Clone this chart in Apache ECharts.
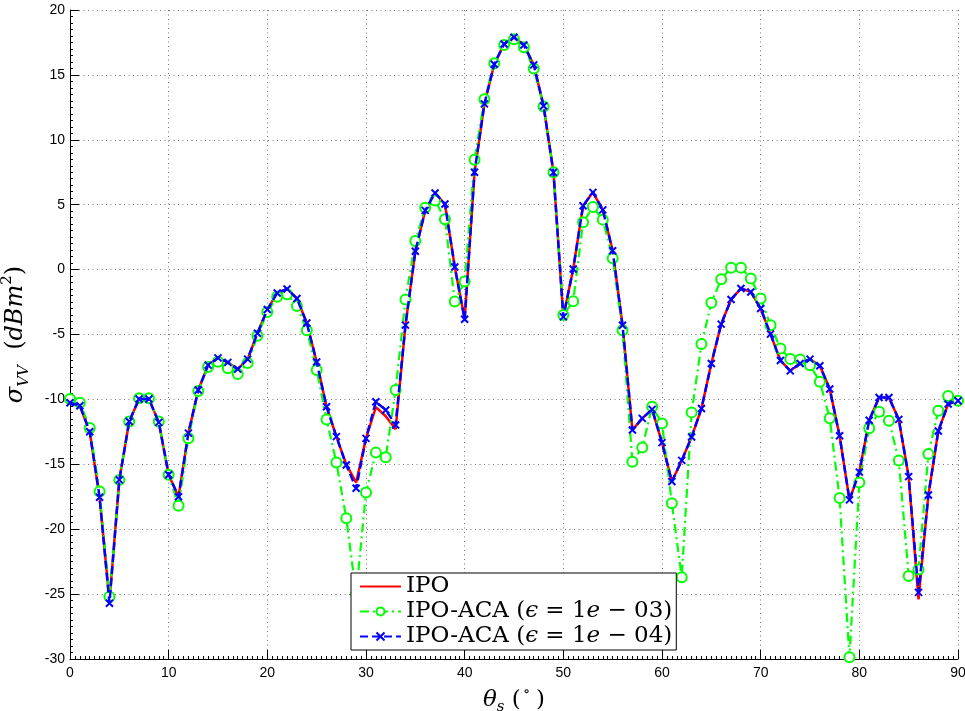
<!DOCTYPE html>
<html>
<head>
<meta charset="utf-8">
<script src="https://cdn.jsdelivr.net/npm/echarts@6/dist/echarts.min.js"></script>
<style>
html,body{margin:0;padding:0;background:#fff;}
#chart{width:965px;height:711px;}
</style>
</head>
<body>
<div id="chart"></div>
<script>
const theta = [0,1,2,3,4,5,6,7,8,9,10,11,12,13,14,15,16,17,18,19,20,21,22,23,24,25,26,27,28,29,30,31,32,33,34,35,36,37,38,39,40,41,42,43,44,45,46,47,48,49,50,51,52,53,54,55,56,57,58,59,60,61,62,63,64,65,66,67,68,69,70,71,72,73,74,75,76,77,78,79,80,81,82,83,84,85,86,87,88,89,90];

const ipo = [-10.26,-10.49,-12.49,-17.54,-25.5,-16.2,-11.7,-9.97,-9.97,-11.77,
  -15.8,-17.5,-12.6,-9.28,-7.36,-6.8,-7.15,-7.67,-6.9,-4.9,
  -3.08,-1.8,-1.49,-2.23,-4.12,-7.12,-10.56,-12.87,-15.0,-16.4,
  -13.0,-10.6,-11.3,-12.3,-4.28,1.41,4.56,5.9,5.05,0.2,
  -3.83,7.5,12.77,15.82,17.38,17.9,17.3,15.77,12.6,7.49,
  -3.64,0.05,4.92,5.95,4.6,1.45,-4.29,-12.36,-11.46,-10.77,
  -13.33,-16.33,-14.7,-12.9,-10.7,-7.23,-4.2,-2.3,-1.46,-1.72,
  -3.0,-4.97,-7.0,-7.8,-7.23,-6.9,-7.41,-9.2,-12.8,-17.74,
  -15.6,-11.6,-9.85,-9.85,-11.54,-15.95,-25.4,-17.36,-12.44,-10.36,
  -10.1];

const aca3 = [-9.97,-10.26,-12.2,-17.1,-25.2,-16.2,-11.7,-9.92,-9.92,-11.7,
  -15.8,-18.2,-13.0,-9.36,-7.5,-7.1,-7.6,-8.05,-7.2,-5.1,
  -3.26,-2.1,-1.9,-2.8,-4.67,-7.74,-11.54,-14.87,-19.15,-25.0,
  -17.18,-14.1,-14.46,-9.28,-2.3,2.2,4.77,5.33,3.88,-2.46,
  -0.92,8.46,13.13,15.9,17.3,17.74,17.13,15.5,12.56,7.5,
  -3.5,-2.44,3.64,4.82,3.85,0.87,-4.67,-14.8,-13.7,-10.56,
  -11.85,-18.0,-23.7,-11.0,-5.74,-2.56,-0.74,0.15,0.15,-0.69,
  -2.23,-4.28,-6.08,-6.88,-6.92,-7.36,-8.64,-11.46,-17.6,-29.87,
  -16.4,-12.23,-10.95,-11.64,-14.7,-23.6,-23.1,-14.2,-10.87,-9.74,
  -10.1];

const aca4 = [-10.26,-10.49,-12.49,-17.54,-25.7,-16.2,-11.7,-9.97,-9.97,-11.77,
  -15.8,-17.5,-12.6,-9.28,-7.36,-6.8,-7.15,-7.67,-6.9,-4.9,
  -3.08,-1.8,-1.49,-2.23,-4.12,-7.12,-10.56,-12.87,-15.05,-16.85,
  -13.0,-10.18,-10.82,-11.97,-4.28,1.41,4.56,5.9,5.05,0.2,
  -3.83,7.5,12.77,15.82,17.38,17.9,17.3,15.77,12.6,7.49,
  -3.64,0.05,4.92,5.95,4.6,1.45,-4.29,-12.36,-11.46,-10.77,
  -13.33,-16.33,-14.7,-12.9,-10.7,-7.23,-4.2,-2.3,-1.46,-1.72,
  -3.0,-4.97,-7.0,-7.8,-7.23,-6.9,-7.41,-9.2,-12.8,-17.74,
  -15.6,-11.6,-9.85,-9.85,-11.54,-15.95,-24.87,-17.36,-12.44,-10.36,
  -10.1];

const xTicks = [0,10,20,30,40,50,60,70,80,90];
const yTicks = [-30,-25,-20,-15,-10,-5,0,5,10,15,20];
const seriesNames = ['IPO', 'IPO-ACA (ϵ = 1e − 03)', 'IPO-ACA (ϵ = 1e − 04)'];

const pairs = ys => theta.map((t, i) => [t, ys[i]]);

const serif = '"DejaVu Serif","Liberation Serif",serif';
const sans = '"Liberation Sans",Arial,sans-serif';

const chart = echarts.init(document.getElementById('chart'), null, {renderer: 'canvas'});

const axisCommon = {
  axisLine: {show: true, onZero: false, lineStyle: {color: '#000', width: 1}},
  axisTick: {show: true, inside: true, length: 9, lineStyle: {color: '#000', width: 1}},
  minorTick: {show: true, length: 3, lineStyle: {color: '#000', width: 1}},
  splitLine: {show: true, lineStyle: {color: '#777', width: 1, type: [1, 3.5]}},
  axisLabel: {color: '#000', fontSize: 14, fontFamily: sans}
};

const legendRich = {
  n: {fontFamily: serif, fontSize: 23, color: '#000', lineHeight: 25},
  i: {fontFamily: serif, fontSize: 23, fontStyle: 'italic', color: '#000', lineHeight: 25}
};

chart.setOption({
  animation: false,
  backgroundColor: '#fff',
  grid: {left: 70, right: 7, top: 10, bottom: 52, containLabel: false, outerBoundsMode: 'none'},
  xAxis: Object.assign({}, axisCommon, {
    type: 'value', min: xTicks[0], max: xTicks[xTicks.length - 1], interval: 10,
    minorTick: Object.assign({}, axisCommon.minorTick, {splitNumber: 20}),
    axisLabel: Object.assign({}, axisCommon.axisLabel, {margin: 7}),
    name: '{i|θ}{sub|s} {n|(}{sup|∘}{n|)}',
    nameLocation: 'middle', nameGap: 20,
    nameTextStyle: {
      rich: {
        i: {fontFamily: serif, fontStyle: 'italic', fontSize: 23, color: '#000', lineHeight: 30, verticalAlign: 'middle'},
        n: {fontFamily: serif, fontSize: 23, color: '#000', lineHeight: 30, verticalAlign: 'middle', padding: [0, 0, 0, 4]},
        sub: {fontFamily: serif, fontStyle: 'italic', fontSize: 15, color: '#000', lineHeight: 15, verticalAlign: 'bottom'},
        sup: {fontFamily: serif, fontSize: 15, color: '#000', lineHeight: 15, verticalAlign: 'top', padding: [0, 2, 0, 2]}
      }
    }
  }),
  yAxis: Object.assign({}, axisCommon, {
    type: 'value', min: yTicks[0], max: yTicks[yTicks.length - 1], interval: 5,
    minorTick: Object.assign({}, axisCommon.minorTick, {splitNumber: 10}),
    axisLabel: Object.assign({}, axisCommon.axisLabel, {margin: 5}),
    name: '{i|σ}{sub|VV}{n|  (}{i|dBm}{sup|2}{n|)}',
    nameLocation: 'middle', nameGap: 38, nameRotate: 90,
    nameTextStyle: {
      rich: {
        i: {fontFamily: serif, fontStyle: 'italic', fontSize: 24, color: '#000', lineHeight: 32, verticalAlign: 'middle'},
        n: {fontFamily: serif, fontSize: 24, color: '#000', lineHeight: 32, verticalAlign: 'middle'},
        sub: {fontFamily: serif, fontStyle: 'italic', fontSize: 15, color: '#000', lineHeight: 15, verticalAlign: 'bottom'},
        sup: {fontFamily: serif, fontSize: 15, color: '#000', lineHeight: 15, verticalAlign: 'top'}
      }
    }
  }),
  legend: {
    orient: 'vertical',
    left: 351, top: 573,
    padding: [2, 4, 2, 8],
    itemGap: 2,
    itemWidth: 41, itemHeight: 10,
    backgroundColor: '#fff',
    borderColor: '#000', borderWidth: 1,
    borderRadius: 0,
    data: [
      {name: seriesNames[0], itemStyle: {opacity: 0}},
      {name: seriesNames[1]},
      {name: seriesNames[2]}
    ],
    formatter: function (name) {
      if (name === seriesNames[0]) return '{n|IPO}';
      const tail = name === seriesNames[1] ? '03' : '04';
      return '{n|IPO-ACA (}{i|ϵ}{n| = 1}{i|e}{n| − ' + tail + ')}';
    },
    textStyle: {padding: [0, 0, 0, 0], rich: legendRich},
    z: 10
  },
  series: [
    {
      name: seriesNames[0], type: 'line', data: pairs(ipo),
      showSymbol: false, symbol: 'none', symbolSize: 0,
      lineStyle: {color: '#ff0000', width: 2.5},
      itemStyle: {color: '#ff0000'},
      z: 2
    },
    {
      name: seriesNames[1], type: 'line', data: pairs(aca3),
      symbol: 'emptyCircle', symbolSize: 10, showAllSymbol: true,
      lineStyle: {color: '#00ff00', width: 2.2, type: [9, 4, 2, 4]},
      itemStyle: {color: '#00ff00', borderColor: '#00ff00', borderWidth: 2},
      z: 3
    },
    {
      name: seriesNames[2], type: 'line', data: pairs(aca4),
      symbol: 'path://M0,0 L10,10 M10,0 L0,10', symbolSize: 7, showAllSymbol: true,
      lineStyle: {color: '#0000ff', width: 2.5, type: [8, 4]},
      itemStyle: {color: '#0000ff', borderColor: '#0000ff', borderWidth: 2},
      z: 4
    }
  ]
});
</script>
</body>
</html>
